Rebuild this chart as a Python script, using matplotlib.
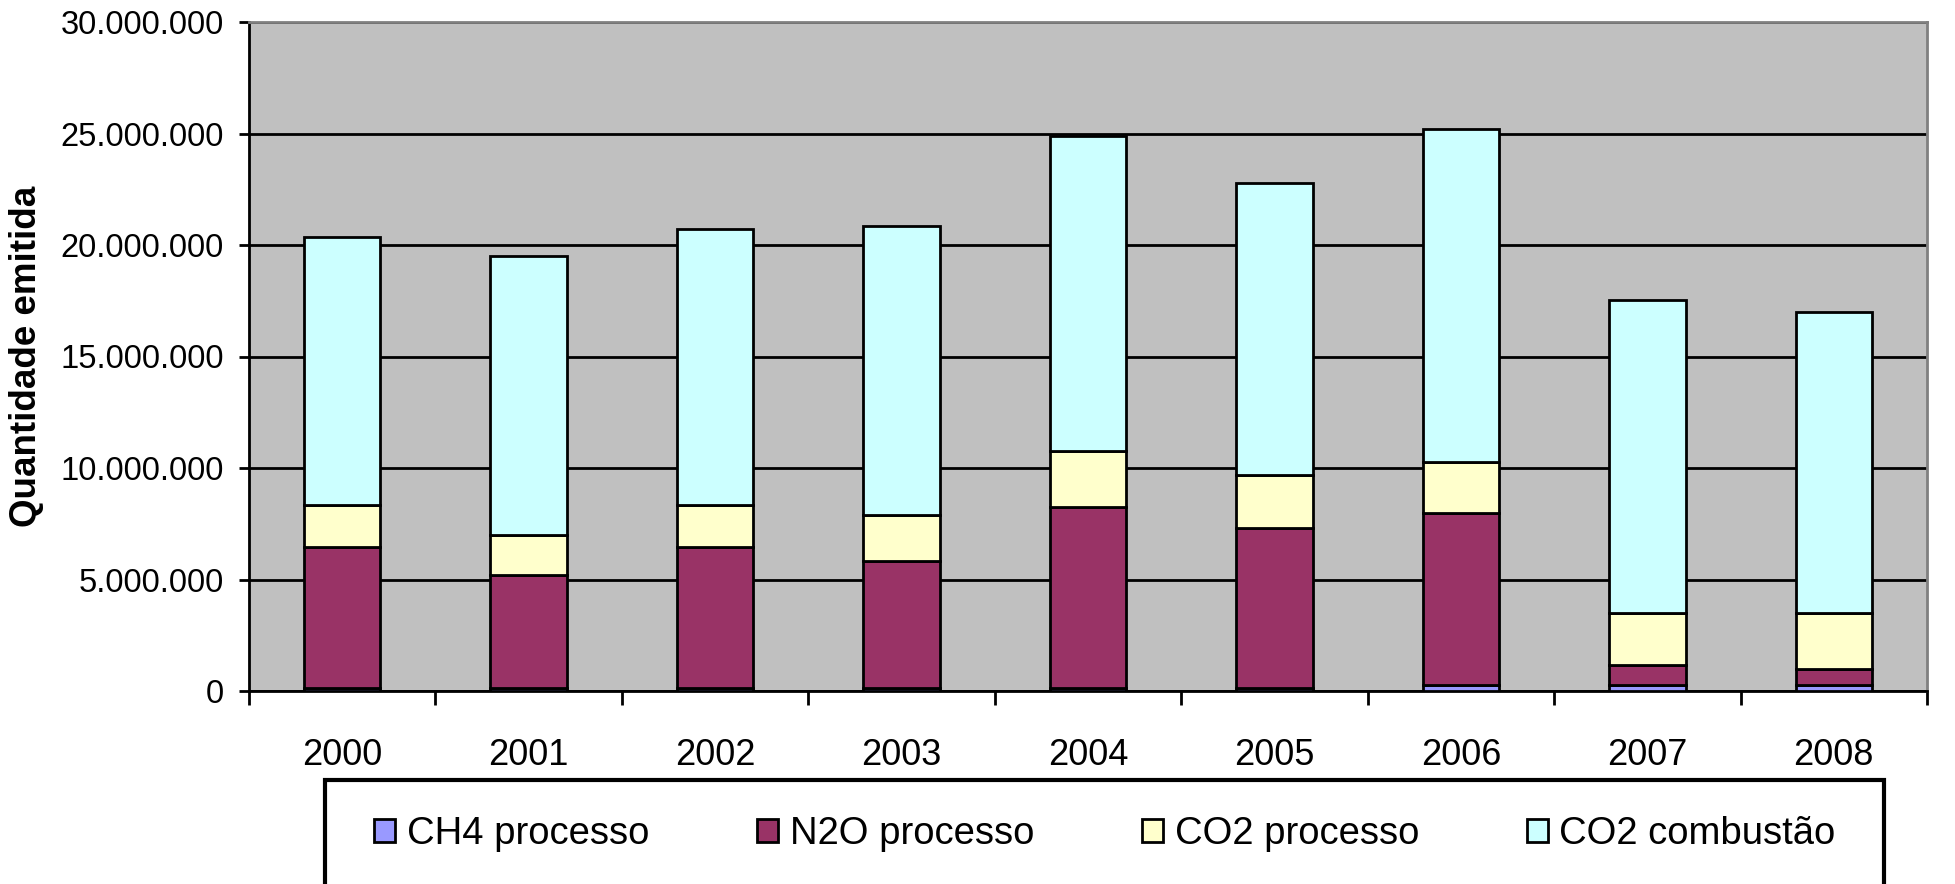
import numpy as np
import matplotlib
matplotlib.use("Agg")
import matplotlib.pyplot as plt
from matplotlib.patches import Patch, Rectangle
from matplotlib.ticker import FuncFormatter

plt.rcParams['font.family'] = ['Liberation Sans', 'DejaVu Sans']

# Dados
anos = ['2000', '2001', '2002', '2003', '2004', '2005', '2006', '2007', '2008']
ch4_processo = [150000, 150000, 150000, 150000, 150000, 150000, 280000, 280000, 250000]
n2o_processo = [6300000, 5070000, 6300000, 5680000, 8090000, 7140000, 7680000, 870000, 750000]
co2_processo = [1910000, 1790000, 1910000, 2080000, 2530000, 2410000, 2300000, 2370000, 2520000]
co2_combustao = [12000000, 12510000, 12340000, 12950000, 14130000, 13070000, 14920000, 14030000, 13470000]

series = [ch4_processo, n2o_processo, co2_processo, co2_combustao]
nomes = ['CH4 processo', 'N2O processo', 'CO2 processo', 'CO2 combustão']
cores = ['#9999FF', '#993366', '#FFFFCC', '#CCFFFF']

fig = plt.figure(figsize=(19.55, 8.84), dpi=100)
ax = fig.add_axes([249/1955, 1 - 691/884, 1678/1955, 669/884])
ax.set_facecolor('#C0C0C0')

x = np.arange(len(anos))
base = np.zeros(len(anos))
for vals, cor in zip(series, cores):
    ax.bar(x, vals, width=0.41, bottom=base, color=cor, edgecolor='black', linewidth=2, zorder=3)
    base += np.array(vals)

ax.set_xlim(-0.5, len(anos) - 0.5)
ax.set_ylim(0, 30000000)
ax.set_yticks(np.arange(0, 30000001, 5000000))
ax.yaxis.set_major_formatter(FuncFormatter(lambda v, p: f'{v:,.0f}'.replace(',', '.')))
ax.grid(axis='y', color='black', linewidth=2, zorder=1)
ax.set_axisbelow(True)

# ticks nas divisões, rótulos no centro
ax.set_xticks(np.arange(-0.5, len(anos)), minor=False)
ax.set_xticklabels([''] * (len(anos) + 1))
ax.set_xticks(x, minor=True)
ax.set_xticklabels(anos, minor=True)
ax.tick_params(axis='x', which='major', length=10, width=2, direction='out')
ax.tick_params(axis='x', which='minor', length=0, pad=34, labelsize=26)
ax.tick_params(axis='y', length=7, width=2, pad=11, labelsize=23.5)

for s in ['left', 'bottom']:
    ax.spines[s].set_color('black')
    ax.spines[s].set_linewidth(2)
for s in ['top', 'right']:
    ax.spines[s].set_color('#808080')
    ax.spines[s].set_linewidth(2)

ax.set_ylabel('Quantidade emitida', fontsize=26.5, fontweight='bold')
ax.yaxis.set_label_coords(-0.1222, 0.5)

# Legenda
fig.patches.append(Rectangle((325/1955, -0.05), 1559/1955, (884 - 780)/884 + 0.05,
                             transform=fig.transFigure, facecolor='white',
                             edgecolor='black', linewidth=3, zorder=0))
handles = [Patch(facecolor=c, edgecolor='black', linewidth=2) for c in cores]
fig.legend(handles, nomes, ncol=4, loc='center', mode='expand',
           bbox_to_anchor=(340/1955, 1 - 862/884, 1530/1955, 56/884),
           frameon=False, fontsize=27.5, handlelength=0.55, handleheight=0.55,
           handletextpad=0.3)

fig.savefig('out.png', dpi=100)
